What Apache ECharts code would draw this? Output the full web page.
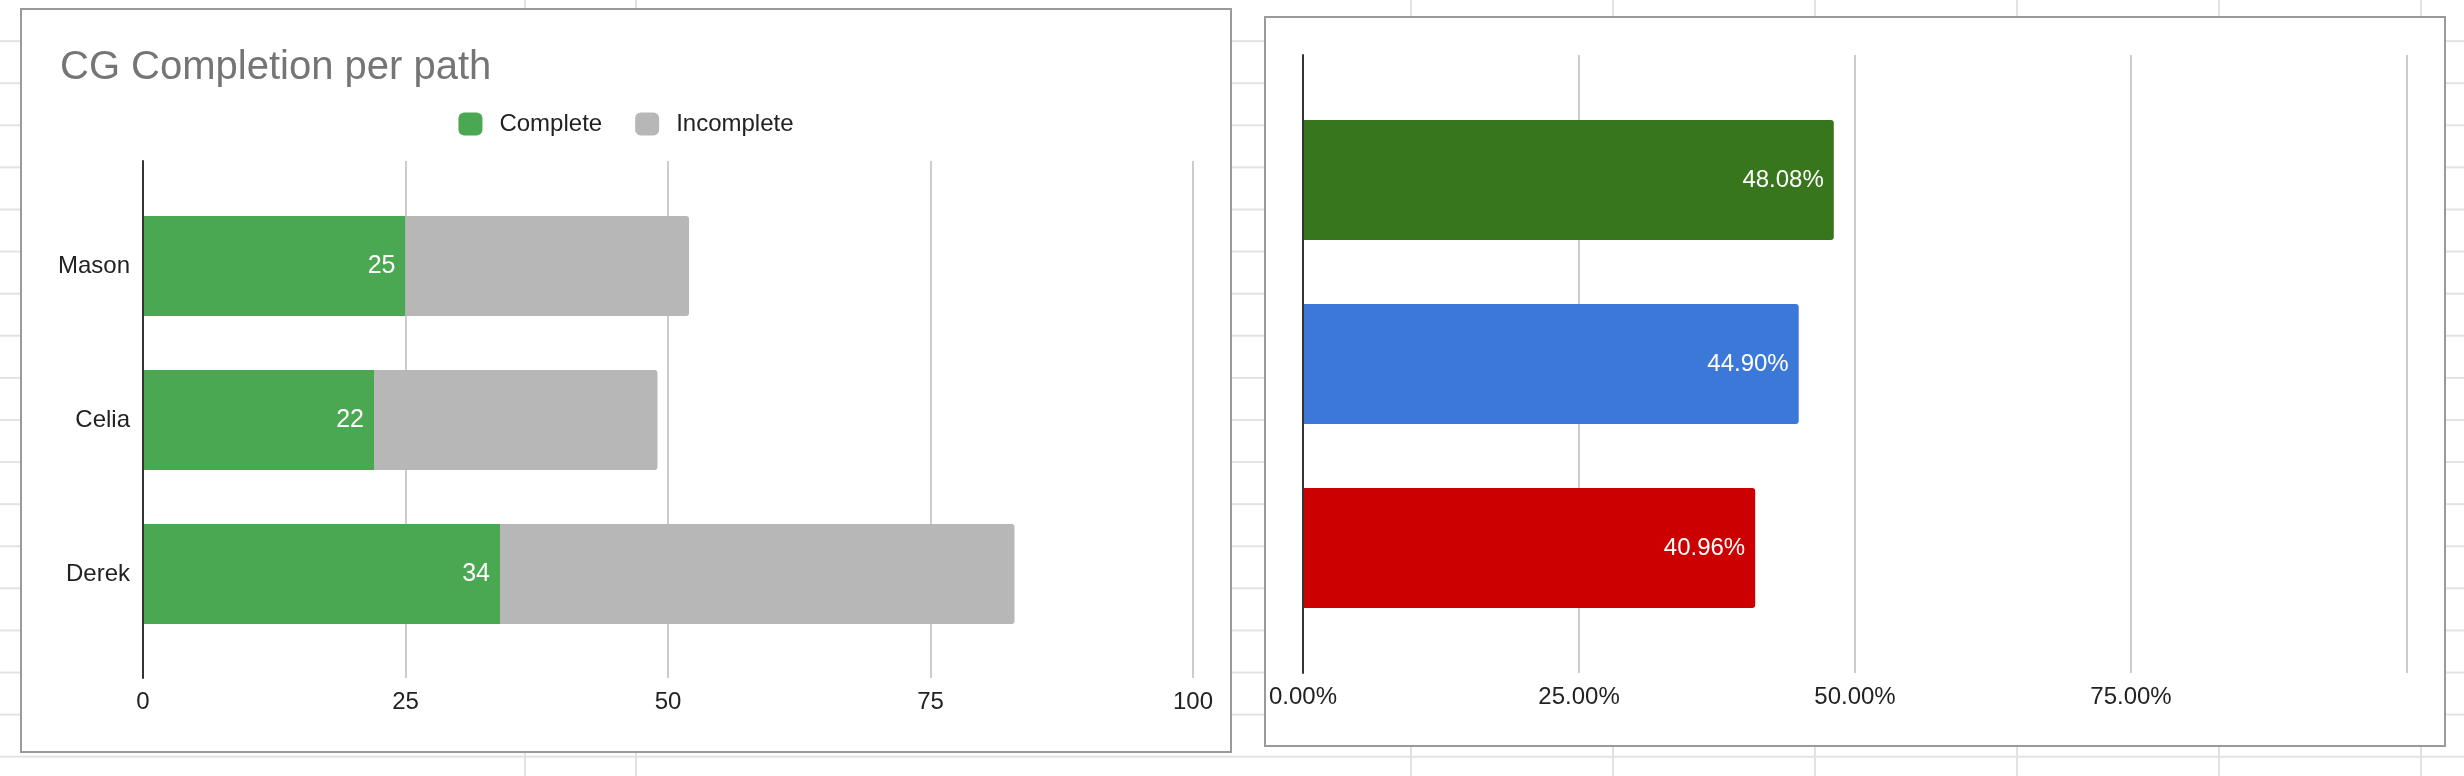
<!DOCTYPE html>
<html>
<head>
<meta charset="utf-8">
<script src="https://cdn.jsdelivr.net/npm/echarts@6/dist/echarts.min.js"></script>
<style>
  html, body { margin: 0; padding: 0; }
  body {
    width: 2464px; height: 776px; position: relative; overflow: hidden;
    background-color: #fff;
    background-image: repeating-linear-gradient(to bottom, transparent 0px, transparent 40px, #e2e2e2 40px, #e2e2e2 42px);
    background-size: 100% 42.1px;
  }
  .vline { position: absolute; top: 0; width: 2px; height: 776px; background: #e2e2e2; }
  .panel { position: absolute; border: 2px solid #9a9a9a; background: #fff; box-sizing: border-box; }
  .chart { position: absolute; left: 0; top: 0; }
</style>
</head>
<body>
<div class="vline" style="left:524px"></div>
<div class="vline" style="left:635px"></div>
<div class="vline" style="left:1410px"></div>
<div class="vline" style="left:1612px"></div>
<div class="vline" style="left:1814px"></div>
<div class="vline" style="left:2016px"></div>
<div class="vline" style="left:2218px"></div>
<div class="vline" style="left:2420px"></div>

<div class="panel" style="left:20px; top:8px; width:1212px; height:745px;">
  <div id="left" class="chart" style="width:1208px; height:741px;"></div>
</div>
<div class="panel" style="left:1264px; top:16px; width:1182px; height:731px;">
  <div id="right" class="chart" style="width:1178px; height:727px;"></div>
</div>

<script>
const categories = ['Mason', 'Celia', 'Derek'];
const completeValues = [25, 22, 34];
const incompleteValues = [27, 27, 49];
const leftTicks = [0, 25, 50, 75, 100];
const pctValues = [48.08, 44.90, 40.96];
const pctColors = ['#38761d', '#3c78d8', '#cc0000'];
const rightTicks = ['0.00%', '25.00%', '50.00%', '75.00%'];

const FONT = '"Liberation Sans", Arial, Helvetica, sans-serif';

// ---------- Left chart ----------
const left = echarts.init(document.getElementById('left'), null, { renderer: 'canvas' });
left.setOption({
  animation: false,
  textStyle: { fontFamily: FONT },
  title: {
    text: 'CG Completion per path',
    left: 38, top: 38, padding: 0,
    textStyle: { fontFamily: FONT, fontSize: 40, fontWeight: 'normal', color: '#757575' }
  },
  legend: {
    data: ['Complete', 'Incomplete'],
    left: 'center', top: 97,
    icon: 'roundRect',
    itemWidth: 24, itemHeight: 23, itemGap: 33,
    textStyle: { fontFamily: FONT, fontSize: 24, color: '#222', padding: [0, 0, 0, 12] }
  },
  grid: [
    { left: 121, top: 151, width: 1050, height: 517, containLabel: false },
    { left: 121, top: 179, width: 1050, height: 462, containLabel: false }
  ],
  xAxis: [
    {
      gridIndex: 0, type: 'value', min: 0, max: 100, interval: 25,
      axisLine: { show: false }, axisTick: { show: false },
      splitLine: { show: true, lineStyle: { color: '#cccccc', width: 2 } },
      axisLabel: {
        show: true, margin: 12, fontFamily: FONT, fontSize: 24, color: '#222',
        formatter: function (v) { return leftTicks.indexOf(v) >= 0 ? String(v) : ''; }
      }
    },
    {
      gridIndex: 1, type: 'value', min: 0, max: 100, interval: 25,
      axisLine: { show: false }, axisTick: { show: false },
      splitLine: { show: false }, axisLabel: { show: false }
    }
  ],
  yAxis: [
    {
      gridIndex: 0, type: 'category', data: categories, inverse: true, z: 5,
      axisLine: { show: true, lineStyle: { color: '#333', width: 2 } },
      axisTick: { show: false }, axisLabel: { show: false }, splitLine: { show: false }
    },
    {
      gridIndex: 1, type: 'category', data: categories, inverse: true,
      axisLine: { show: false }, axisTick: { show: false },
      axisLabel: { show: true, margin: 13, fontFamily: FONT, fontSize: 24, color: '#222' }
    }
  ],
  series: [
    {
      name: 'Complete', type: 'bar', stack: 'total',
      xAxisIndex: 1, yAxisIndex: 1,
      barWidth: 100,
      data: completeValues,
      itemStyle: { color: '#4aa853' },
      label: {
        show: true, position: 'insideRight', distance: 10,
        fontFamily: FONT, fontSize: 25, color: '#ffffff'
      }
    },
    {
      name: 'Incomplete', type: 'bar', stack: 'total',
      xAxisIndex: 1, yAxisIndex: 1,
      barWidth: 100,
      data: incompleteValues,
      itemStyle: { color: '#b7b7b7', borderRadius: [0, 3, 3, 0] },
      label: { show: false }
    }
  ]
});

// ---------- Right chart ----------
const right = echarts.init(document.getElementById('right'), null, { renderer: 'canvas' });
right.setOption({
  animation: false,
  textStyle: { fontFamily: FONT },
  grid: [
    { left: 37, top: 37, width: 1104, height: 618, containLabel: false },
    { left: 37, top: 70, width: 1104, height: 552, containLabel: false }
  ],
  xAxis: [
    {
      gridIndex: 0, type: 'value', min: 0, max: 100, interval: 25,
      axisLine: { show: false }, axisTick: { show: false },
      splitLine: { show: true, lineStyle: { color: '#cccccc', width: 2 } },
      axisLabel: {
        show: true, margin: 12, showMaxLabel: false,
        fontFamily: FONT, fontSize: 24, color: '#222',
        formatter: function (v) { const i = v / 25; return rightTicks[i] !== undefined ? rightTicks[i] : ''; }
      }
    },
    {
      gridIndex: 1, type: 'value', min: 0, max: 100, interval: 25,
      axisLine: { show: false }, axisTick: { show: false },
      splitLine: { show: false }, axisLabel: { show: false }
    }
  ],
  yAxis: [
    {
      gridIndex: 0, type: 'category', data: categories, inverse: true, z: 5,
      axisLine: { show: true, lineStyle: { color: '#333', width: 2 } },
      axisTick: { show: false }, axisLabel: { show: false }, splitLine: { show: false }
    },
    {
      gridIndex: 1, type: 'category', data: categories, inverse: true,
      axisLine: { show: false }, axisTick: { show: false }, axisLabel: { show: false }
    }
  ],
  series: [
    {
      name: 'Completion %', type: 'bar',
      xAxisIndex: 1, yAxisIndex: 1,
      barWidth: 120,
      data: pctValues.map(function (v, i) {
        return { value: v, itemStyle: { color: pctColors[i], borderRadius: [0, 3, 3, 0] } };
      }),
      label: {
        show: true, position: 'insideRight', distance: 10,
        fontFamily: FONT, fontSize: 24, color: '#ffffff',
        formatter: function (p) { return p.value.toFixed(2) + '%'; }
      }
    }
  ]
});
</script>
</body>
</html>
